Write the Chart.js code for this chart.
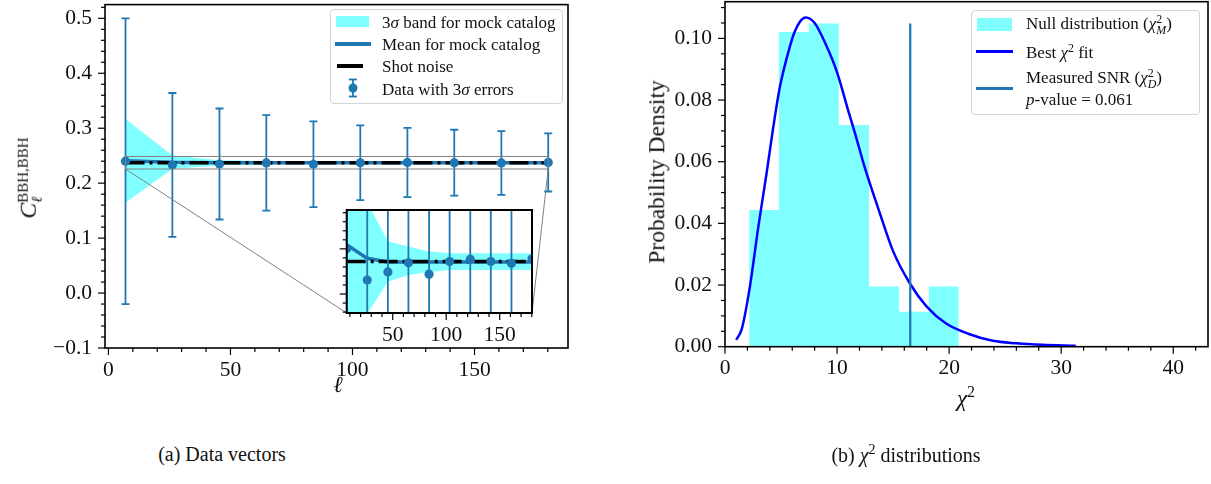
<!DOCTYPE html>
<html>
<head>
<meta charset="utf-8">
<script src="https://cdn.jsdelivr.net/npm/chart.js@4.4.1/dist/chart.umd.min.js"></script>
<style>
  html, body { margin: 0; padding: 0; background: #fff; }
  body { width: 1211px; height: 484px; position: relative; overflow: hidden;
         font-family: "Liberation Serif", "DejaVu Serif", serif; color: #111; }
  canvas { position: absolute; }
  .lbl { position: absolute; transform: translate(-50%, -50%); white-space: nowrap; line-height: 1; }
  .box { position: absolute; border: 1px solid #d4d4d4; border-radius: 4px; background: rgba(255,255,255,0.85); }
  .item { position: absolute; white-space: nowrap; font-size: 17px; line-height: 1; transform: translateY(-50%); }
  .sym { position: absolute; }
  .ss { display: inline-flex; flex-direction: column; line-height: 0.95; font-size: 0.7em; vertical-align: 0.5em; }
  .sup2 { font-size: 0.7em; vertical-align: 0.55em; }
</style>
</head>
<body>
<canvas id="left" width="590" height="440" style="left:0;top:0;width:590px;height:440px"></canvas>
<canvas id="inset" width="250" height="170" style="left:300px;top:190px;width:250px;height:170px"></canvas>
<canvas id="right" width="611" height="440" style="left:600px;top:0;width:611px;height:440px"></canvas>

<!-- axis titles -->
<div class="lbl" style="left:30px;top:178px;transform:translate(-50%,-50%) rotate(-90deg);font-size:24px;">
  <i>C</i><span class="ss" style="font-size:15px;vertical-align:8px;"><span>BBH,BBH</span><span><i>ℓ</i></span></span>
</div>
<div class="lbl" style="left:338px;top:384px;font-size:23px;"><i>ℓ</i></div>
<div class="lbl" style="left:657px;top:172px;transform:translate(-50%,-50%) rotate(-90deg);font-size:23.5px;">Probability Density</div>
<div class="lbl" style="left:966px;top:397px;font-size:23px;"><i>χ</i><span class="sup2">2</span></div>

<!-- captions -->
<div class="lbl" style="left:222px;top:454px;font-size:20px;">(a) Data vectors</div>
<div class="lbl" style="left:906px;top:454px;font-size:20px;">(b) <i>χ</i><span class="sup2">2</span> distributions</div>

<!-- legend, left panel -->
<div class="box" style="left:330px;top:9px;width:231px;height:93px;"></div>
<div class="sym" style="left:336px;top:16px;width:33px;height:11px;background:#80ffff;"></div>
<div class="item" style="left:382px;top:22px;">3<i>σ</i> band for mock catalog</div>
<div class="sym" style="left:335px;top:42px;width:36px;height:4px;background:#1f77b4;"></div>
<div class="item" style="left:382px;top:44px;">Mean for mock catalog</div>
<div class="sym" style="left:337px;top:64px;width:26px;height:4px;background:#000;"></div>
<div class="item" style="left:382px;top:66px;">Shot noise</div>
<svg class="sym" style="left:343px;top:78px;" width="20" height="20">
  <line x1="10" y1="1.5" x2="10" y2="18.5" stroke="#1f77b4" stroke-width="1.8"/>
  <line x1="6" y1="1.5" x2="14" y2="1.5" stroke="#1f77b4" stroke-width="1.8"/>
  <line x1="6" y1="18.5" x2="14" y2="18.5" stroke="#1f77b4" stroke-width="1.8"/>
  <circle cx="10" cy="10" r="4.5" fill="#1f77b4"/>
</svg>
<div class="item" style="left:382px;top:89px;">Data with 3<i>σ</i> errors</div>

<!-- legend, right panel -->
<div class="box" style="left:971px;top:10px;width:227px;height:103px;"></div>
<div class="sym" style="left:977px;top:18px;width:35px;height:13px;background:#80ffff;"></div>
<div class="item" style="left:1026px;top:25px;">Null distribution (<i>χ</i><span class="ss"><span>2</span><span><i>M</i></span></span>)</div>
<div class="sym" style="left:976px;top:50px;width:37px;height:3px;background:#0000ff;"></div>
<div class="item" style="left:1026px;top:52px;">Best <i>χ</i><span class="sup2">2</span> fit</div>
<div class="sym" style="left:976px;top:87px;width:37px;height:3px;background:#1f77b4;"></div>
<div class="item" style="left:1026px;top:79px;">Measured SNR (<i>χ</i><span class="ss"><span>2</span><span><i>D</i></span></span>)</div>
<div class="item" style="left:1026px;top:99px;"><i>p</i>-value = 0.061</div>

<script>
// ---- panel (a): data vectors ----
const ells = [7.0, 26.2, 45.5, 64.7, 84.0, 103.2, 122.5, 141.7, 161.0, 180.2];
const dataCl = [0.2400, 0.2331, 0.2349, 0.2369, 0.2344, 0.2372, 0.2377, 0.2372, 0.2368, 0.2378];
const dataErr3 = [0.260, 0.131, 0.101, 0.087, 0.078, 0.068, 0.063, 0.060, 0.058, 0.053];
const mockMean = [0.2409, 0.2379, 0.2371, 0.2371, 0.2371, 0.2371, 0.2371, 0.2371, 0.2371, 0.2371];
const bandUpper = [0.317, 0.2504, 0.2416, 0.2405, 0.2394, 0.2390, 0.2390, 0.2390, 0.2390, 0.2390];
const bandLower = [0.165, 0.2256, 0.2327, 0.2342, 0.2349, 0.2353, 0.2353, 0.2353, 0.2353, 0.2353];
const shotNoise = 0.2372;
const zoomBox = [0.2258, 0.2486];   // y-range of the inset

const leftXTicks = [0, 50, 100, 150];
const leftYTicks = [-0.1, 0.0, 0.1, 0.2, 0.3, 0.4, 0.5];
const insetXTicks = [50, 100, 150];
const insetYTicks = [0.23, 0.24];

// ---- panel (b): chi^2 distributions ----
const histEdges = [2.16, 4.81, 7.48, 10.15, 12.85, 15.52, 18.19, 20.86];
const histDensity = [0.0443, 0.1021, 0.1048, 0.0719, 0.0195, 0.0113, 0.0195];
const fitX = [1.0, 1.5, 2.2, 3.0, 3.7, 4.3, 4.9, 5.8, 6.2, 6.7, 7.2, 8.0, 9.0, 10.0, 11.0, 11.7, 12.4, 13.8, 15.0, 16.5, 18.0, 19.7, 21.7, 23.9, 26.0, 28.3, 31.3];
const fitY = [0.0022, 0.0058, 0.0190, 0.0395, 0.0560, 0.0710, 0.0843, 0.0975, 0.1020, 0.1055, 0.1068, 0.1050, 0.0980, 0.0890, 0.0765, 0.0680, 0.0590, 0.0435, 0.0310, 0.0205, 0.0130, 0.0076, 0.0042, 0.0019, 0.0011, 0.0006, 0.0003];
const measuredChi2 = 16.53;
const measuredTop = 0.1048;
const rightXTicks = [0, 10, 20, 30, 40];
const rightYTicks = [0.00, 0.02, 0.04, 0.06, 0.08, 0.10];

const FONT = "'Liberation Serif', 'DejaVu Serif', serif";
const cyan = 'rgba(0,255,255,0.5)';
const tabBlue = '#1f77b4';

// spines, outward ticks, optional white plot background
const frame = {
  id: 'frame',
  beforeDraw(chart, args, o) {
    if (!o.fill) return;
    const a = chart.chartArea, ctx = chart.ctx;
    ctx.save();
    ctx.fillStyle = '#fff';
    ctx.fillRect(a.left, a.top, a.width, a.height);
    ctx.restore();
  },
  afterDraw(chart, args, o) {
    const { ctx, chartArea: a, scales: { x, y } } = chart;
    ctx.save();
    ctx.strokeStyle = '#000';
    ctx.lineWidth = 1.2;
    const isMajor = (list, v) => list.some(m => Math.abs(m - v) < 1e-7);
    for (let k = Math.ceil(x.min / o.xStep - 1e-9); k * o.xStep <= x.max + 1e-9; k++) {
      const v = k * o.xStep, px = x.getPixelForValue(v);
      const len = isMajor(o.xMajor, v) ? 7 : 4;
      ctx.beginPath(); ctx.moveTo(px, a.bottom); ctx.lineTo(px, a.bottom + len); ctx.stroke();
    }
    for (let k = Math.ceil(y.min / o.yStep - 1e-9); k * o.yStep <= y.max + 1e-9; k++) {
      const v = k * o.yStep, py = y.getPixelForValue(v);
      const len = isMajor(o.yMajor, v) ? 7 : 4;
      ctx.beginPath(); ctx.moveTo(a.left, py); ctx.lineTo(a.left - len, py); ctx.stroke();
    }
    ctx.lineWidth = o.spine || 1.6;
    ctx.strokeRect(a.left, a.top, a.width, a.height);
    ctx.restore();
  }
};

// 3-sigma error bars for the data points
const errorBars = {
  id: 'errorBars',
  afterDatasetsDraw(chart, args, o) {
    if (!o.on) return;
    const { ctx, chartArea: a, scales: { x, y } } = chart;
    ctx.save();
    ctx.beginPath(); ctx.rect(a.left, a.top, a.width, a.height); ctx.clip();
    ctx.strokeStyle = tabBlue;
    ctx.lineWidth = 1.8;
    ells.forEach((l, i) => {
      const px = x.getPixelForValue(l);
      const t = y.getPixelForValue(dataCl[i] + dataErr3[i]);
      const b = y.getPixelForValue(dataCl[i] - dataErr3[i]);
      ctx.beginPath();
      ctx.moveTo(px, t); ctx.lineTo(px, b);
      ctx.moveTo(px - 4, t); ctx.lineTo(px + 4, t);
      ctx.moveTo(px - 4, b); ctx.lineTo(px + 4, b);
      ctx.stroke();
    });
    ctx.restore();
  }
};

// zoom rectangle plus connector lines to the inset corners
const zoomMark = {
  id: 'zoomMark',
  afterDraw(chart, args, o) {
    if (!o.on) return;
    const { ctx, scales: { x, y } } = chart;
    const l = x.getPixelForValue(ells[0]), r = x.getPixelForValue(ells[ells.length - 1]);
    const t = y.getPixelForValue(zoomBox[1]), b = y.getPixelForValue(zoomBox[0]);
    ctx.save();
    ctx.strokeStyle = '#808080';
    ctx.lineWidth = 1;
    ctx.strokeRect(l, t, r - l, b - t);
    ctx.beginPath();
    ctx.moveTo(l, b); ctx.lineTo(346.7, 313);
    ctx.moveTo(r, b); ctx.lineTo(532, 313);
    ctx.stroke();
    ctx.restore();
  }
};

function pts(xs, ys) { return xs.map((v, i) => ({ x: v, y: ys[i] })); }

function dataVectorSets(markerR, meanW, shotW) {
  return [
    { data: pts(ells, dataCl), showLine: false, pointRadius: markerR, pointBackgroundColor: tabBlue, pointBorderWidth: 0 },
    { data: [{ x: ells[0], y: shotNoise }, { x: ells[ells.length - 1], y: shotNoise }], borderColor: '#000',
      borderWidth: shotW, borderDash: [19, 5, 3, 5], pointRadius: 0, fill: false },
    { data: pts(ells, mockMean), borderColor: tabBlue, borderWidth: meanW, pointRadius: 0, fill: false, tension: 0 },
    { data: pts(ells, bandUpper), borderWidth: 0, pointRadius: 0, backgroundColor: cyan, fill: '+1', tension: 0 },
    { data: pts(ells, bandLower), borderWidth: 0, pointRadius: 0, fill: false, tension: 0 }
  ];
}

function baseOptions(cfg) {
  return {
    responsive: false,
    animation: false,
    events: [],
    layout: { padding: cfg.padding },
    plugins: {
      legend: { display: false }, tooltip: { enabled: false },
      frame: cfg.frame, errorBars: { on: cfg.errors }, zoomMark: { on: cfg.zoom }
    },
    scales: {
      x: {
        type: 'linear', min: cfg.x[0], max: cfg.x[1],
        grid: { display: false, drawTicks: false }, border: { display: false },
        afterFit: s => { s.height = cfg.xh; s.paddingLeft = 0; s.paddingRight = 0; },
        afterBuildTicks: s => { s.ticks = cfg.xt.map(v => ({ value: v })); },
        ticks: { autoSkip: false, maxRotation: 0, padding: 9, color: '#111',
                 font: { family: FONT, size: 21.5 }, callback: v => String(v) }
      },
      y: {
        type: 'linear', min: cfg.y[0], max: cfg.y[1],
        grid: { display: false, drawTicks: false }, border: { display: false },
        afterFit: s => { s.width = cfg.yw; s.paddingTop = 0; s.paddingBottom = 0; },
        afterBuildTicks: s => { s.ticks = cfg.yt.map(v => ({ value: v })); },
        ticks: { display: cfg.ylabels, autoSkip: false, padding: 13, color: '#111',
                 font: { family: FONT, size: 21.5 }, callback: cfg.yfmt }
      }
    }
  };
}

const signed = d => v => (v < 0 ? '\u2212' : '') + Math.abs(v).toFixed(d);

new Chart(document.getElementById('left'), {
  type: 'line',
  data: { datasets: dataVectorSets(4.6, 3.5, 3.5) },
  options: baseOptions({
    padding: { left: 0, top: 2, right: 22, bottom: 0 },
    x: [-1.4, 188.3], y: [-0.1, 0.525], xh: 92, yw: 105,
    xt: leftXTicks, yt: leftYTicks, ylabels: true, yfmt: signed(1),
    errors: true, zoom: true,
    frame: { xStep: 10, yStep: 0.02, xMajor: leftXTicks, yMajor: leftYTicks, spine: 1.6 }
  }),
  plugins: [frame, errorBars, zoomMark]
});

new Chart(document.getElementById('inset'), {
  type: 'line',
  data: { datasets: dataVectorSets(4.6, 3.5, 3.5) },
  options: baseOptions({
    padding: { left: 0, top: 20, right: 18, bottom: 0 },
    x: [ells[0], ells[ells.length - 1]], y: zoomBox, xh: 47, yw: 46.7,
    xt: insetXTicks, yt: insetYTicks, ylabels: false, yfmt: v => '',
    errors: true, zoom: false,
    frame: { fill: true, xStep: 10, yStep: 0.002, xMajor: insetXTicks, yMajor: insetYTicks, spine: 2 }
  }),
  plugins: [frame, errorBars]
});

const histPoints = histEdges.map((e, i) => ({ x: e, y: histDensity[Math.min(i, histDensity.length - 1)] }));

new Chart(document.getElementById('right'), {
  type: 'line',
  data: {
    datasets: [
      { data: [{ x: measuredChi2, y: 0 }, { x: measuredChi2, y: measuredTop }], borderColor: tabBlue,
        borderWidth: 2.2, pointRadius: 0, fill: false },
      { data: pts(fitX, fitY), borderColor: '#0000ff', borderWidth: 2.5, pointRadius: 0,
        cubicInterpolationMode: 'monotone', fill: false },
      { data: histPoints, stepped: true, borderWidth: 0, pointRadius: 0, backgroundColor: cyan, fill: 'origin' }
    ]
  },
  options: baseOptions({
    padding: { left: 0, top: 1.7, right: 3, bottom: 0 },
    x: [0, 43.1], y: [0, 0.1119], xh: 93.3, yw: 125,
    xt: rightXTicks, yt: rightYTicks, ylabels: true, yfmt: v => v.toFixed(2),
    errors: false, zoom: false,
    frame: { xStep: 2, yStep: 0.005, xMajor: rightXTicks, yMajor: rightYTicks, spine: 1.6 }
  }),
  plugins: [frame]
});
</script>
</body>
</html>
